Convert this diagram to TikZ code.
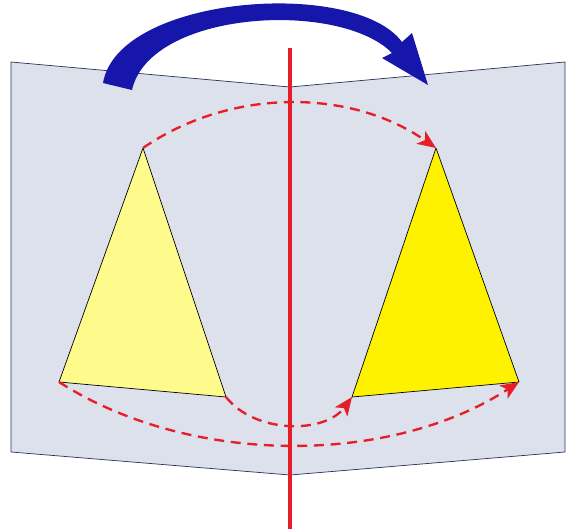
\documentclass[tikz,border=0pt]{standalone}
\usepackage{xcolor}
\usepackage{tikz}
\usetikzlibrary{arrows.meta, calc}
\definecolor{pagegray}{RGB}{221,225,235}
\definecolor{pageedge}{RGB}{40,50,90}
\definecolor{paleyellow}{RGB}{255,250,140}
\definecolor{foldblue}{RGB}{22,22,170}
\definecolor{mirrorred}{RGB}{230,30,40}

\begin{document}
\begin{tikzpicture}[
    x=0.03cm, y=-0.03cm,
    >={Stealth[length=5.5mm, width=4.6mm, inset=1.4mm]},
    page/.style={draw=pageedge, fill=pagegray, line width=0.6pt, line join=round},
    trianglebox/.style={draw=black, line width=0.6pt, line join=round},
    mapping/.style={draw=mirrorred, dash pattern=on 3mm off 2mm, line width=2pt, ->},
]
    \useasboundingbox (0,0) rectangle (571,529);

    % Open book pages
    \draw[page] (11,62) -- (290,87) -- (290,475) -- (11,452) -- cycle;
    \draw[page] (290,87) -- (565,62) -- (565,452) -- (290,475) -- cycle;

    % Triangles
    \coordinate (la) at (143,148);
    \coordinate (lb) at (59,382);
    \coordinate (lc) at (226,397);
    \coordinate (ra) at (436,148);
    \coordinate (rb) at (519,382);
    \coordinate (rc) at (352,397);
    \draw[trianglebox, fill=paleyellow] (la) -- (lb) -- (lc) -- cycle;
    \draw[trianglebox, fill=yellow] (ra) -- (rb) -- (rc) -- cycle;

    % Mirror line
    \coordinate (mtop) at (290,48);
    \coordinate (mbot) at (290,529);
    \draw[mirrorred, line width=3pt] (mtop) -- (mbot);

    % Point mappings
    \draw[mapping] (la) .. controls (230,88) and (350,88) .. (ra);
    \draw[mapping] (lb) .. controls (190,466) and (390,466) .. (rb);
    \draw[mapping] (lc) .. controls (255,434) and (325,434) .. (rc);

    % Folding arrow
    \fill[foldblue] (103,83) .. controls (118,-5) and (355,-22) .. (402,42)
        -- (412,33) -- (428,85) -- (382,58) -- (392,53)
        .. controls (340,0) and (150,10) .. (132,90) -- cycle;
\end{tikzpicture}
\end{document}
